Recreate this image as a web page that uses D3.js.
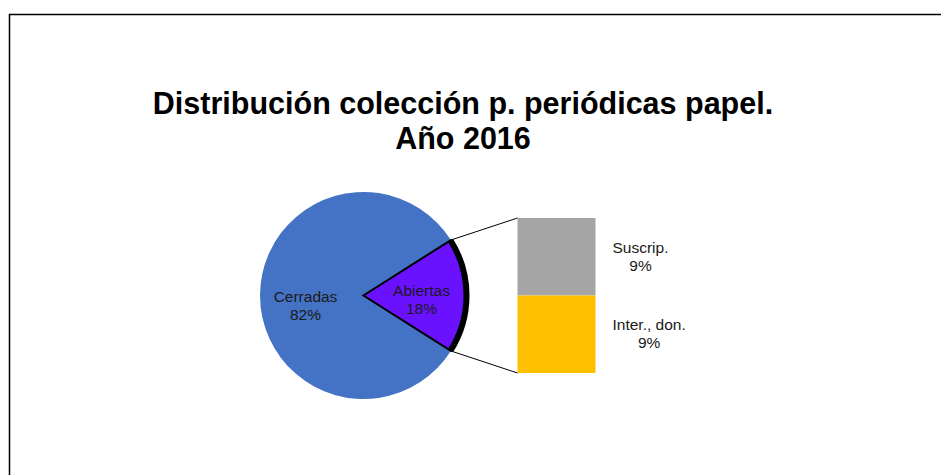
<!DOCTYPE html>
<html>
<head>
<meta charset="utf-8">
<script src="https://cdn.jsdelivr.net/npm/d3@7"></script>
<style>
	html, body { margin: 0; padding: 0; background: #fff; }
	svg { display: block; font-family: "Liberation Sans", Arial, sans-serif; }
</style>
</head>
<body>
<svg id="chart" width="941" height="475"></svg>
<script>
// main pie: open part first so it sits on the right side
var pieCategories = ["Abiertas", "Cerradas"];
var pieValues = [18, 82];

// breakdown of "Abiertas" shown in the stacked bar
var barCategories = ["Suscrip.", "Inter., don."];
var barValues = [9, 9];

var titleLines = ["Distribución colección p. periódicas papel.", "Año 2016"];

var pieColors = ["#6A12FF", "#4472C4"];
var barColors = ["#A5A5A5", "#FFC000"];

var svg = d3.select("#chart");

// frame (only left and top edges are visible)
svg.append("path")
	.attr("d", "M9.5,475V14.5H941")
	.attr("fill", "none")
	.attr("stroke", "#000")
	.attr("stroke-width", 1.5);

// title
svg.append("text")
	.attr("x", 463)
	.attr("y", 114)
	.attr("text-anchor", "middle")
	.attr("font-size", 30.5)
	.attr("font-weight", "bold")
	.attr("fill", "#000")
	.selectAll("tspan")
	.data(titleLines)
	.join("tspan")
	.attr("x", 463)
	.attr("dy", function (d, i) { return i === 0 ? 0 : 35; })
	.text(function (d) { return d; });

var cx = 363.5, cy = 295.5, radius = 103.5;
var total = d3.sum(pieValues);
var openShare = pieValues[0] / total;
var startAngle = Math.PI / 2 - openShare * Math.PI;

var pie = d3.pie().sort(null).startAngle(startAngle).endAngle(startAngle + 2 * Math.PI);
var arcs = pie(pieValues);

var arc = d3.arc().innerRadius(0).outerRadius(radius);
var labelArc = d3.arc().innerRadius(58).outerRadius(58);

var g = svg.append("g").attr("transform", "translate(" + cx + "," + cy + ")");

// closed part underneath
g.append("path")
	.attr("d", arc(arcs[1]))
	.attr("fill", pieColors[1]);

// open part, outlined
g.append("path")
	.attr("d", arc(arcs[0]))
	.attr("fill", pieColors[0])
	.attr("stroke", "#000")
	.attr("stroke-width", 2)
	.attr("stroke-linejoin", "miter");

// heavy rim on the open part
g.append("path")
	.attr("d", d3.arc().innerRadius(103).outerRadius(103)(arcs[0]))
	.attr("fill", "none")
	.attr("stroke", "#000")
	.attr("stroke-width", 6);

// stacked bar
var barX0 = 517.5, barX1 = 595.5;
var barY = d3.scaleLinear().domain([0, d3.sum(barValues)]).range([218, 373]);
var stackTops = d3.cumsum([0].concat(barValues));

var bars = barValues.map(function (v, i) {
	return {name: barCategories[i], value: v, y0: barY(stackTops[i]), y1: barY(stackTops[i + 1]), color: barColors[i]};
});

svg.selectAll("rect.bar")
	.data(bars)
	.join("rect")
	.attr("class", "bar")
	.attr("x", barX0)
	.attr("y", function (d) { return d.y0; })
	.attr("width", barX1 - barX0)
	.attr("height", function (d) { return d.y1 - d.y0; })
	.attr("fill", function (d) { return d.color; });

// connector lines from slice corners to bar corners
function corner(angle) {
	return [cx + radius * Math.sin(angle), cy - radius * Math.cos(angle)];
}
var topCorner = corner(arcs[0].startAngle);
var botCorner = corner(arcs[0].endAngle);

svg.append("line")
	.attr("x1", topCorner[0]).attr("y1", topCorner[1])
	.attr("x2", barX0).attr("y2", barY.range()[0])
	.attr("stroke", "#000").attr("stroke-width", 1);
svg.append("line")
	.attr("x1", botCorner[0]).attr("y1", botCorner[1])
	.attr("x2", barX0).attr("y2", barY.range()[1])
	.attr("stroke", "#000").attr("stroke-width", 1);

// pie labels
var fmt = function (v, t) { return Math.round(v / t * 100) + "%"; };
var pieLabelOffsets = [[0, -5], [0, 1]];
arcs.forEach(function (a, i) {
	var c = labelArc.centroid(a);
	var t = g.append("text")
		.attr("text-anchor", "middle")
		.attr("font-size", 15.5)
		.attr("fill", "#1a1a1a");
	t.append("tspan")
		.attr("x", c[0] + pieLabelOffsets[i][0])
		.attr("y", c[1] + pieLabelOffsets[i][1] + 5)
		.text(pieCategories[i]);
	t.append("tspan")
		.attr("x", c[0] + pieLabelOffsets[i][0])
		.attr("dy", 18)
		.text(fmt(pieValues[i], total));
});

// bar labels
bars.forEach(function (d) {
	var mid = (d.y0 + d.y1) / 2;
	var lx = 612.5;
	var t = svg.append("text")
		.attr("font-size", 15.5)
		.attr("fill", "#1a1a1a");
	t.append("tspan")
		.attr("x", lx)
		.attr("y", mid - 9 + 5)
		.text(d.name);
	var w = t.node().getComputedTextLength();
	t.append("tspan")
		.attr("x", lx + w / 2)
		.attr("text-anchor", "middle")
		.attr("dy", 18)
		.text(fmt(d.value, total));
});
</script>
</body>
</html>
